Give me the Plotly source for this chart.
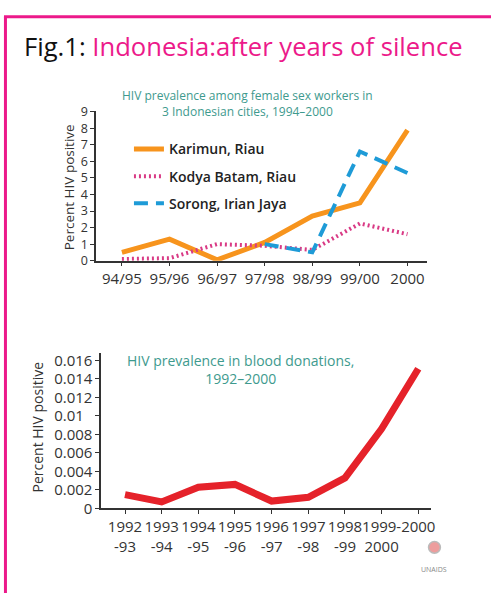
import plotly.graph_objects as go

# ---------------- data ----------------
fsw_periods = ["94/95", "95/96", "96/97", "97/98", "98/99", "99/00", "2000"]
karimun = [0.5, 1.3, 0.05, 1.1, 2.7, 3.5, 7.9]
kodya_batam = [0.1, 0.15, 1.0, 0.9, 0.65, 2.25, 1.6]
sorong = [None, None, None, 1.0, 0.5, 6.6, 5.3]

blood_periods = ["1992<br>-93", "1993<br>-94", "1994<br>-95", "1995<br>-96",
                 "1996<br>-97", "1997<br>-98", "1998<br>-99", "1999-<br>2000", "2000"]
blood_values = [0.0015, 0.0007, 0.0023, 0.0026, 0.0008, 0.0012, 0.0033, 0.0086, 0.0151]

top_yticks = [0, 1, 2, 3, 4, 5, 6, 7, 8, 9]
bottom_yticks = [0, 0.002, 0.004, 0.006, 0.008, 0.01, 0.012, 0.014, 0.016]
bottom_yticktext = ["0", "0.002", "0.004", "0.006", "0.008", "0.01\u2007", "0.012", "0.014", "0.016"]

# ---------------- layout helpers ----------------
W, H = 495, 602
def px(x):
    return x / W
def py(y):
    return 1 - y / H

FONT = "Open Sans, DejaVu Sans, sans-serif"
TICKC = "#333333"
PINK = "#EC1A8A"
TEAL = "#3E9A8E"

fig = go.Figure()

fig.add_trace(go.Scatter(x=fsw_periods, y=karimun, name="Karimun, Riau", mode="lines",
                         line=dict(color="#F7941D", width=5), legendgroup="a",
                         xaxis="x", yaxis="y"))
fig.add_trace(go.Scatter(x=fsw_periods, y=kodya_batam, name="Kodya Batam, Riau", mode="lines",
                         line=dict(color="#D93A85", width=4, dash="2px,3px"), legendgroup="b",
                         xaxis="x", yaxis="y"))
fig.add_trace(go.Scatter(x=fsw_periods, y=sorong, name="Sorong, Irian Jaya", mode="lines",
                         line=dict(color="#1E9BD7", width=4, dash="14px,8px"), legendgroup="c",
                         connectgaps=False, xaxis="x", yaxis="y"))
fig.add_trace(go.Scatter(x=blood_periods, y=blood_values, name="Blood donations", mode="lines",
                         line=dict(color="#E5222A", width=7), showlegend=False,
                         xaxis="x2", yaxis="y2"))

def axis_style(size):
    return dict(showline=True, linecolor="#333333", linewidth=1.5, ticks="outside",
                ticklen=4, tickwidth=1.2, tickcolor="#333333", showgrid=False,
                zeroline=False, tickangle=0,
                tickfont=dict(family=FONT, size=size, color=TICKC))

fig.update_layout(
    width=W, height=H, autosize=False,
    margin=dict(l=0, r=0, t=0, b=0),
    paper_bgcolor="white", plot_bgcolor="white",
    font=dict(family=FONT, color=TICKC),
    xaxis=dict(domain=[px(97), px(430)], anchor="y", type="category",
               range=[-0.54, 6.4], **axis_style(15)),
    yaxis=dict(domain=[py(260), py(106)], anchor="x", range=[0, 9.05],
               tickvals=top_yticks, **axis_style(12.5)),
    xaxis2=dict(domain=[px(102), px(435)], anchor="y2", type="category",
                range=[-0.65, 8.36], **axis_style(15)),
    yaxis2=dict(domain=[py(515), py(355)], anchor="x2", range=[0, 0.0168],
                tickvals=bottom_yticks, ticktext=bottom_yticktext, **axis_style(15)),
    showlegend=True,
    legend=dict(x=px(130), y=py(129), xanchor="left", yanchor="top",
                bgcolor="rgba(0,0,0,0)", tracegroupgap=6,
                font=dict(family=FONT, size=14, color="#222222", weight=600)),
)

ann = []
ann.append(dict(x=px(22), y=py(40), xref="paper", yref="paper", xanchor="left", yanchor="middle",
                showarrow=False,
                text="<span style='color:#111111'>Fig.1:</span> <span style='color:%s'>Indonesia:after years of silence</span>" % PINK,
                font=dict(family=FONT, size=25.6)))
ann.append(dict(x=px(250), y=py(98), xref="paper", yref="paper", xanchor="center", yanchor="middle",
                showarrow=False,
                text="HIV prevalence among female sex workers in<br>3 Indonesian cities, 1994\u20132000",
                font=dict(family=FONT, size=12, color=TEAL)))
ann.append(dict(x=px(242), y=py(372), xref="paper", yref="paper", xanchor="center", yanchor="middle",
                showarrow=False,
                text="HIV prevalence in blood donations,<br>1992\u20132000",
                font=dict(family=FONT, size=14, color=TEAL)))
ann.append(dict(x=px(69), y=py(184), xref="paper", yref="paper", xanchor="center", yanchor="middle",
                showarrow=False, textangle=-90, text="Percent HIV positive",
                font=dict(family=FONT, size=13.5, color=TICKC)))
ann.append(dict(x=px(38), y=py(431), xref="paper", yref="paper", xanchor="center", yanchor="middle",
                showarrow=False, textangle=-90, text="Percent HIV positive",
                font=dict(family=FONT, size=14, color=TICKC)))
ann.append(dict(x=px(438), y=py(578), xref="paper", yref="paper", xanchor="center", yanchor="middle",
                showarrow=False, text="UNAIDS",
                font=dict(family=FONT, size=7, color="#888888")))
fig.update_layout(annotations=ann)

fig.update_layout(shapes=[
    dict(type="line", xref="paper", yref="paper", x0=px(5.5), x1=px(5.5), y0=0, y1=py(9),
         line=dict(color=PINK, width=3)),
    dict(type="line", xref="paper", yref="paper", x0=px(4), x1=1, y0=py(9), y1=py(9),
         line=dict(color=PINK, width=3)),
    dict(type="circle", xref="paper", yref="paper", x0=px(432), x1=px(444), y0=py(561), y1=py(549),
         line=dict(color="#bbbbbb", width=1.5), fillcolor="rgba(220,60,60,0.5)"),
])

fig.write_html("out.html", config={"displayModeBar": False},
               post_script="document.body.style.margin='0';document.body.style.overflow='hidden';")
